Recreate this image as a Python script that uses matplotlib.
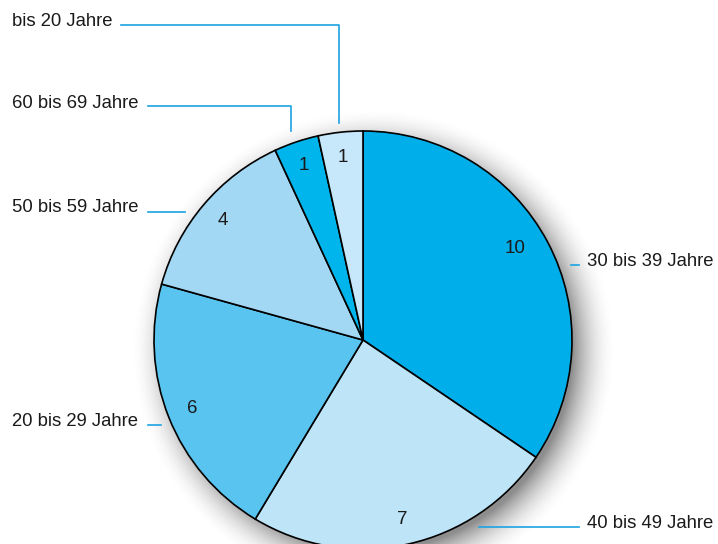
import numpy as np
import matplotlib
matplotlib.use("Agg")
import matplotlib.pyplot as plt

plt.rcParams['font.family'] = ['Liberation Sans', 'DejaVu Sans']

# Data (clockwise from 12 o'clock)
labels = ['30 bis 39 Jahre', '40 bis 49 Jahre', '20 bis 29 Jahre',
          '50 bis 59 Jahre', '60 bis 69 Jahre', 'bis 20 Jahre']
values = [10, 7, 6, 4, 1, 1]
colors = ['#00AEEA', '#BEE4F8', '#5AC4F1', '#A3D8F5', '#00B5EB', '#C6E8FA']

W, H = 718, 544
fig = plt.figure(figsize=(W / 100, H / 100), dpi=100)
ax = fig.add_axes([0, 0, 1, 1])
ax.set_xlim(0, W)
ax.set_ylim(0, H)
ax.set_aspect('equal')
ax.axis('off')

cx, cy, R = 363, H - 340, 209

# soft drop shadow
yy, xx = np.mgrid[0:H, 0:W]
d = np.hypot(xx - (cx + 10), (H - yy) - (cy - 10))
a = np.clip(1 - (d - (R - 10)) / 45, 0, 1) ** 2 * 0.45
shadow = np.zeros((H, W, 4))
shadow[..., 3] = a
ax.imshow(shadow, extent=(0, W, 0, H), origin='upper', zorder=0)

total = sum(values)
wedges, texts, autotexts = ax.pie(
    values, colors=colors, startangle=90, counterclock=False,
    center=(cx, cy), radius=R, frame=True,
    wedgeprops=dict(edgecolor='black', linewidth=1.2),
    autopct=lambda p: f"{round(p * total / 100)}", pctdistance=0.88,
    textprops=dict(fontsize=13.5, color='#1a1a1a'))
for w in wedges:
    w.set_zorder(2)
for t in autotexts:
    t.set_zorder(3)
# nudge the "10" a little towards the top like in the original
autotexts[0].set_position((cx + 0.85 * R * np.cos(np.radians(31)),
                           cy + 0.85 * R * np.sin(np.radians(31))))
ax.set_xlim(0, W)
ax.set_ylim(0, H)
ax.axis('off')

line_col = '#1BA3E2'

# label positions and leader lines (pixel coords from top)
label_pos = {
    '30 bis 39 Jahre': (587, 261),
    '40 bis 49 Jahre': (587, 523),
    '20 bis 29 Jahre': (12, 421),
    '50 bis 59 Jahre': (12, 208),
    '60 bis 69 Jahre': (12, 103),
    'bis 20 Jahre': (12, 21),
}
leaders = {
    '30 bis 39 Jahre': [(571, 265), (579, 265)],
    '40 bis 49 Jahre': [(479, 527), (579, 527)],
    '20 bis 29 Jahre': [(148, 425), (161, 425)],
    '50 bis 59 Jahre': [(148, 212), (185, 212)],
    '60 bis 69 Jahre': [(148, 106), (291, 106), (291, 131)],
    'bis 20 Jahre': [(121, 25), (339, 25), (339, 123)],
}
for lab in labels:
    x, y = label_pos[lab]
    ax.text(x, H - y, lab, fontsize=13.3, color='#1a1a1a',
            ha='left', va='center', zorder=4)
    pts = leaders[lab]
    ax.plot([p[0] for p in pts], [H - p[1] for p in pts],
            color=line_col, linewidth=1.2, zorder=1)

fig.savefig('out.png', dpi=100)
